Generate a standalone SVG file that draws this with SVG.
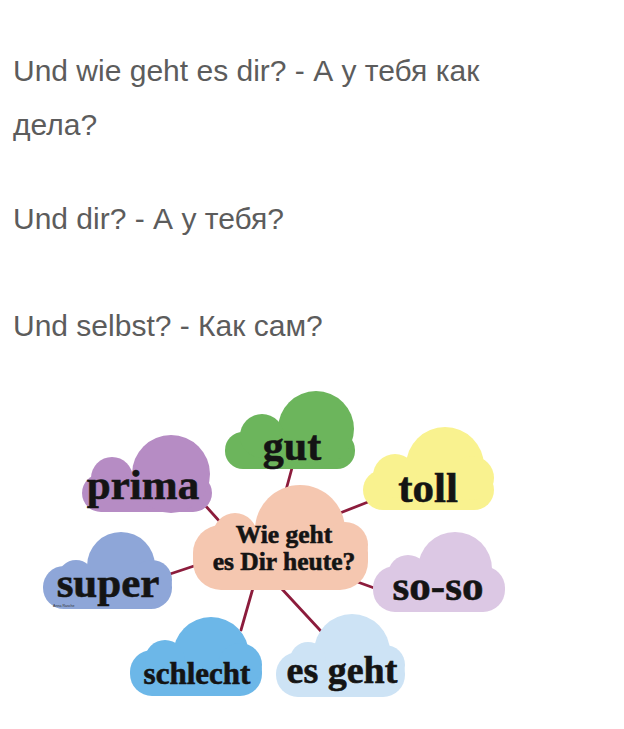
<svg xmlns="http://www.w3.org/2000/svg" width="624" height="729" viewBox="0 0 624 729">
<style>
.top{font-family:"Liberation Sans",Arial,sans-serif;font-size:30px;fill:#5c5c5c}
.lbl{font-family:"Liberation Serif","Times New Roman",serif;font-weight:bold;fill:#141414;stroke:#141414;stroke-width:0.6;text-anchor:middle}
.con line{stroke:#8c1c3c;stroke-width:2.8;stroke-linecap:round}
</style>
<rect width="624" height="729" fill="#ffffff"/>
<g id="intro">
<text class="top" x="13" y="81">Und wie geht es dir? - А у тебя как</text>
<text class="top" x="13" y="135">дела?</text>
<text class="top" x="13" y="229">Und dir? - А у тебя?</text>
<text class="top" x="13" y="336">Und selbst? - Как сам?</text>
</g>
<g id="connectors" class="con">
<line x1="292" y1="468" x2="286" y2="490"/>
<line x1="203" y1="503" x2="230" y2="533"/>
<line x1="368" y1="502" x2="340" y2="513"/>
<line x1="170" y1="574" x2="194" y2="566"/>
<line x1="352" y1="580" x2="377" y2="589"/>
<line x1="253" y1="588" x2="241" y2="630"/>
<line x1="281" y1="588" x2="331" y2="642"/>
</g>
<g id="gut" fill="#6cb55c">
<rect x="225" y="432" width="130" height="37" rx="18"/>
<circle cx="316" cy="429" r="38"/>
<circle cx="262" cy="436" r="22"/>
<text class="lbl" x="292" y="460" font-size="42">gut</text>
</g>
<g id="prima" fill="#b68cc4">
<rect x="82" y="474" width="130" height="38" rx="19"/>
<circle cx="171" cy="474" r="39"/>
<circle cx="112" cy="478" r="21"/>
<text class="lbl" x="143" y="499" font-size="43">prima</text>
</g>
<g id="toll" fill="#f9f28f">
<rect x="363" y="470" width="131" height="40" rx="20"/>
<circle cx="445" cy="466" r="39"/>
<circle cx="395" cy="476" r="22"/>
<circle cx="472" cy="478" r="22"/>
<text class="lbl" x="428" y="502" font-size="43">toll</text>
</g>
<g id="center" fill="#f5c7b0">
<rect x="193" y="525" width="175" height="65" rx="28"/>
<circle cx="300" cy="530" r="45"/>
<circle cx="235" cy="535" r="22"/>
<circle cx="345" cy="545" r="23"/>
<text class="lbl" x="284" y="543" font-size="25.5" stroke-width="0.4">Wie geht</text>
<text class="lbl" x="284" y="570" font-size="25.5" stroke-width="0.4">es Dir heute?</text>
</g>
<g id="super" fill="#8ea6d8">
<rect x="43" y="566" width="129" height="43" rx="21"/>
<circle cx="121" cy="566" r="34"/>
<circle cx="76" cy="578" r="18"/>
<circle cx="152" cy="580" r="20"/>
<text class="lbl" x="108" y="597" font-size="43">super</text>
<text x="53" y="607" font-family="Liberation Sans,Arial,sans-serif" font-size="3.6" fill="#333">Anna Rasche</text>
</g>
<g id="soso" fill="#dcc8e4">
<rect x="373" y="566" width="132" height="46" rx="22"/>
<circle cx="455" cy="569" r="37"/>
<circle cx="408" cy="575" r="20"/>
<text class="lbl" x="438" y="600" font-size="43">so-so</text>
</g>
<g id="schlecht" fill="#6cb7e8">
<rect x="130" y="650" width="132" height="46" rx="22"/>
<circle cx="211" cy="655" r="38"/>
<circle cx="165" cy="660" r="20"/>
<circle cx="240" cy="665" r="22"/>
<text class="lbl" x="197" y="684" font-size="31" stroke-width="0.5">schlecht</text>
</g>
<g id="esgeht" fill="#cde3f5">
<rect x="276" y="652" width="129" height="45" rx="22"/>
<circle cx="352" cy="652" r="38"/>
<circle cx="308" cy="660" r="18"/>
<circle cx="385" cy="665" r="20"/>
<text class="lbl" x="342" y="683" font-size="38">es geht</text>
</g>
</svg>
